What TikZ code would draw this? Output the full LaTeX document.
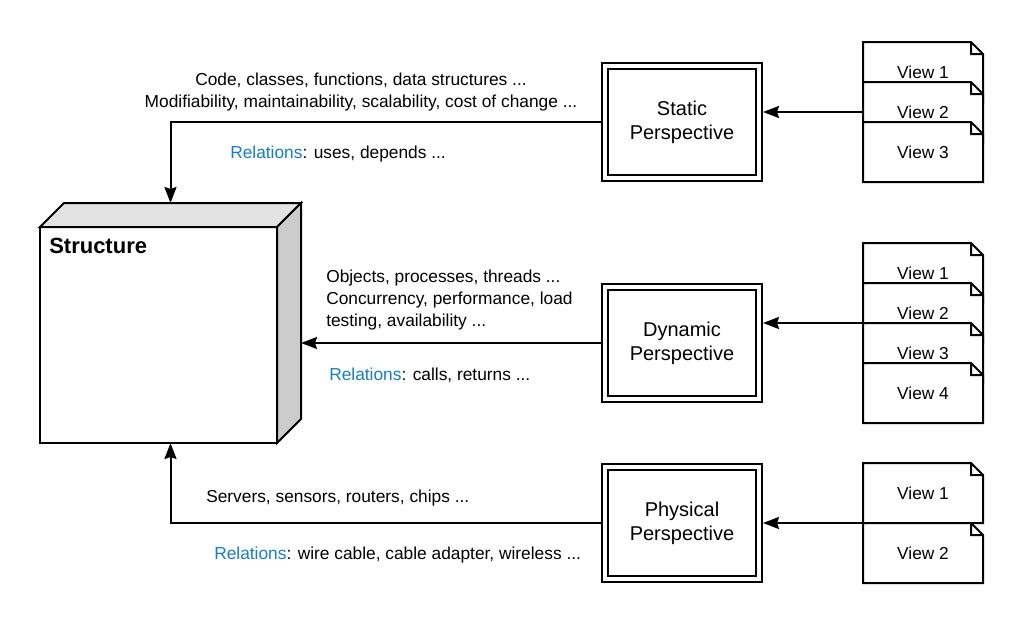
\documentclass[tikz,border=0pt]{standalone}
\usepackage{fontspec}
\setmainfont{Liberation Sans}
\usetikzlibrary{arrows.meta}

\definecolor{relblue}{HTML}{1B7CC0}
\definecolor{topgray}{HTML}{E3E3E3}
\definecolor{sidegray}{HTML}{CCCCCC}

% one view document with a folded corner: name, centre, text
\newcommand{\viewdoc}[3]{%
  \filldraw[docline, shift={(#2)}] (-45pt,-22.5pt) -- (-45pt,22.5pt) -- (36pt,22.5pt) -- (45pt,13.5pt) -- (45pt,-22.5pt) -- cycle
    (36pt,22.5pt) |- (45pt,13.5pt);
  \node[view] (#1) at (#2) {#3};
}

\begin{document}
\begin{tikzpicture}[
    x=0.75pt, y=-0.75pt,
    persp/.style={draw, line width=1.5pt, double, double distance=3pt, minimum width=115.5pt, minimum height=84pt, align=center, outer sep=3pt, font=\fontsize{15}{18}\selectfont},
    view/.style={minimum width=90pt, minimum height=45pt, inner sep=0pt, outer sep=0pt, font=\fontsize{13}{16}\selectfont},
    docline/.style={draw, fill=white, line width=1.5pt, line join=miter},
    cube/.style={minimum width=195.75pt, minimum height=180pt, inner sep=0pt, outer sep=0pt},
    face/.style={draw, line width=1.5pt, line join=miter},
    note/.style={inner sep=0pt, font=\fontsize{13}{16.5}\selectfont},
    arrow/.style={-{Stealth[length=12pt, width=9pt, inset=1.5pt]}, line width=1.5pt}
]
\useasboundingbox (0,0) rectangle (1024,625);

% Structure block
\node[cube] (struct) at (170.5,323) {};
\filldraw[face, fill=white] (struct.south west) rectangle ([shift={(-18pt,-18pt)}]struct.north east);
\filldraw[face, fill=topgray] ([yshift=-18pt]struct.north west) -- ([xshift=18pt]struct.north west) -- (struct.north east) -- ([shift={(-18pt,-18pt)}]struct.north east) -- cycle;
\filldraw[face, fill=sidegray] ([shift={(-18pt,-18pt)}]struct.north east) -- (struct.north east) -- ([yshift=18pt]struct.south east) -- ([xshift=-18pt]struct.south east) -- cycle;
\node[anchor=west, inner sep=0pt, font=\bfseries\fontsize{16.5}{20}\selectfont] (structname) at (49,246) {Structure};

% Perspectives
\node[persp] (sp) at (682,122) {\raisebox{-1.5pt}{Static}\\\raisebox{-1.5pt}{Perspective}};
\node[persp] (dp) at (682,343) {\raisebox{-1.5pt}{Dynamic}\\\raisebox{-1.5pt}{Perspective}};
\node[persp] (pp) at (682,523) {\raisebox{-1.5pt}{Physical}\\\raisebox{-1.5pt}{Perspective}};

% Views
\viewdoc{s1}{923,72}{View 1}
\viewdoc{s2}{923,112}{View 2}
\viewdoc{s3}{923,152}{View 3}

\viewdoc{d1}{923,273}{View 1}
\viewdoc{d2}{923,313}{View 2}
\viewdoc{d3}{923,353}{View 3}
\viewdoc{d4}{923,393}{View 4}

\viewdoc{p1}{923,493}{View 1}
\viewdoc{p2}{923,553}{View 2}

% Notes
\node[note, align=center] (snote) at (361,92) {Code, classes, functions, data structures ...\\Modifiability, maintainability, scalability, cost of change ...};
\node[note, anchor=west] (srel) at (230,154) {\textcolor{relblue}{Relations}: uses, depends ...};
\node[note, anchor=west, align=left] (dnote) at (326,300) {Objects, processes, threads ...\\Concurrency, performance, load\\testing, availability ...};
\node[note, anchor=west] (drel) at (329,375) {\textcolor{relblue}{Relations}: calls, returns ...};
\node[note, anchor=west] (pnote) at (206,498) {Servers, sensors, routers, chips ...};
\node[note, anchor=west] (prel) at (214,555) {\textcolor{relblue}{Relations}: wire cable, cable adapter, wireless ...};

% Arrows
\draw[arrow] (s2.west) -- (s2.west -| sp.east);
\draw[arrow] (d3.north west) -- (d3.north west -| dp.east);
\draw[arrow] (p2.north west) -- (p2.north west -| pp.east);
\draw[arrow] (sp.west) -| (struct.north);
\draw[arrow] (dp.west) -- (dp.west -| struct.east);
\draw[arrow] (pp.west) -| (struct.south);

\end{tikzpicture}
\end{document}
